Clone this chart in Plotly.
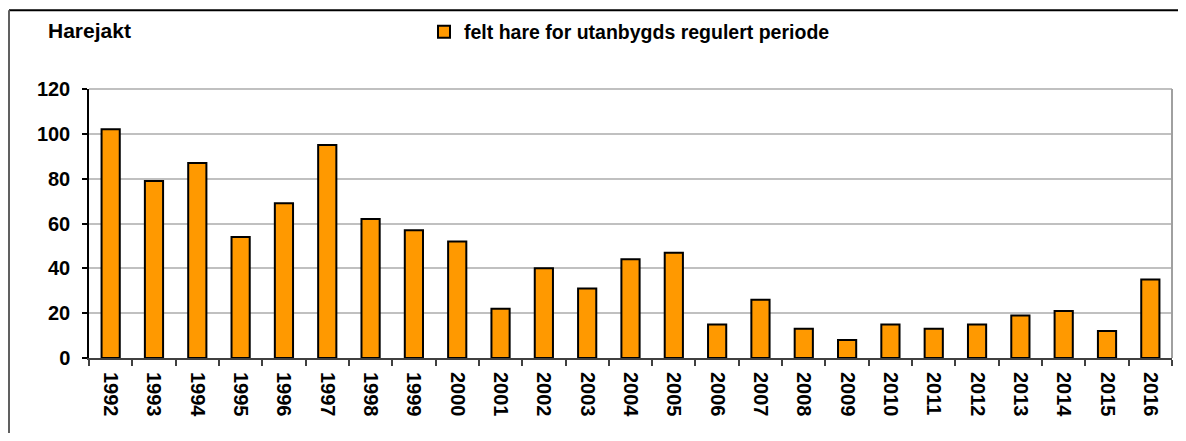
import plotly.graph_objects as go

years = [str(y) for y in range(1992, 2017)]
felt_hare = [102, 79, 87, 54, 69, 95, 62, 57, 52, 22, 40, 31, 44, 47,
             15, 26, 13, 8, 15, 13, 15, 19, 21, 12, 35]
y_ticks = [0, 20, 40, 60, 80, 100, 120]

FONT = "Liberation Sans, Arial, sans-serif"
BAR_COLOR = "#FF9900"
GRID_COLOR = "#C0C0C0"

# the page body adds an 8px margin, so the figure starts at (8, 8)
OFF = 8
W, H = 1186 - 2 * OFF, 441 - 2 * OFF
L, R, T, B = 89 - OFF, 6, 88 - OFF, 75
pw, ph = W - L - R, H - T - B

fig = go.Figure()

fig.add_trace(go.Bar(
    x=years,
    y=felt_hare,
    name="felt hare for utanbygds regulert periode",
    marker=dict(color=BAR_COLOR, line=dict(color="black", width=2)),
    width=0.42,
))


def px_x(p):
    return (p - OFF - L) / pw


def px_y(p):
    return 1 - (p - OFF - T) / ph


# plot area top and right border (gray) + outer frame (top & left)
shapes = [
    dict(type="line", xref="paper", yref="paper", x0=0, x1=1, y0=1, y1=1,
         line=dict(color=GRID_COLOR, width=2)),
    dict(type="line", xref="paper", yref="paper", x0=1, x1=1, y0=0, y1=1,
         line=dict(color="#A0A0A0", width=2)),
    dict(type="line", xref="paper", yref="paper", x0=px_x(9), x1=px_x(1200),
         y0=px_y(9), y1=px_y(9), line=dict(color="black", width=2)),
    dict(type="line", xref="paper", yref="paper", x0=px_x(9), x1=px_x(9),
         y0=px_y(9), y1=px_y(450), line=dict(color="#606060", width=2)),
]

fig.update_layout(
    width=W,
    height=H,
    margin=dict(l=L, r=R, t=T, b=B),
    paper_bgcolor="white",
    plot_bgcolor="white",
    font=dict(family=FONT, size=19, color="black"),
    title=dict(
        text="<b>Harejakt</b>",
        xref="container", yref="container",
        x=(48 - OFF) / W, y=1 - (31 - OFF) / H,
        xanchor="left", yanchor="middle",
        font=dict(family=FONT, size=21, color="black"),
    ),
    showlegend=True,
    legend=dict(
        orientation="h",
        x=px_x(424), y=px_y(32),
        xanchor="left", yanchor="middle",
        bgcolor="rgba(0,0,0,0)",
        font=dict(family=FONT, size=19.5, color="black", weight="bold"),
    ),
    xaxis=dict(
        type="category",
        tickangle=90,
        tickfont=dict(family=FONT, size=20, color="black", weight="bold"),
        showline=True,
        linecolor="#404040",
        linewidth=2,
        ticks="outside",
        tickson="boundaries",
        ticklen=6,
        tickcolor="#404040",
        tickwidth=1.5,
        ticklabelstandoff=8,
        showgrid=False,
    ),
    yaxis=dict(
        range=[0, 120],
        tickvals=y_ticks,
        tickfont=dict(family=FONT, size=20, color="black", weight="bold"),
        showline=True,
        linecolor="black",
        linewidth=1.5,
        ticks="outside",
        ticklen=5,
        tickcolor="black",
        tickwidth=1.5,
        ticklabelstandoff=8,
        showgrid=True,
        gridcolor=GRID_COLOR,
        gridwidth=2,
        zeroline=False,
    ),
    shapes=shapes,
)

fig.write_html("out.html")
